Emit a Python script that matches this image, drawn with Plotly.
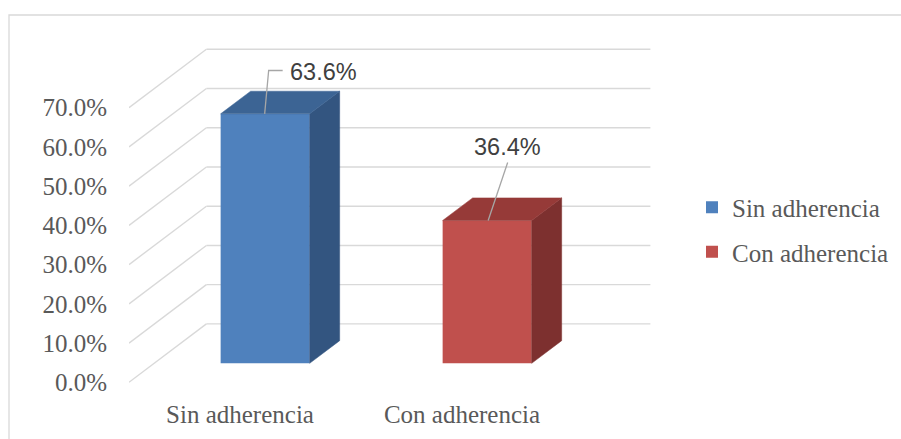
import plotly.graph_objects as go

# ---- data ----
categories = ["Sin adherencia", "Con adherencia"]
values = [63.6, 36.4]
y_ticks = [0, 10, 20, 30, 40, 50, 60, 70]
y_tick_labels = [f"{v:.1f}%" for v in y_ticks]

# ---- styling ----
front_colors = ["#4F81BD", "#C0504D"]
top_colors = ["#3C6494", "#963A38"]
side_colors = ["#335580", "#7D302F"]
grid_color = "#D9D9D9"
text_gray = "#595959"
label_gray = "#404040"
leader_gray = "#A6A6A6"
serif = "Liberation Serif, Times New Roman, serif"
sans = "Liberation Sans, Arial, sans-serif"

# ---- page geometry (pixels) ----
W, H = 901, 439
PLOT_L, PLOT_R, PLOT_T, PLOT_B = 129, 895, 30, 388
X_PX = 222.0          # pixels per category step
Y_PX = 3.923          # pixels per percentage point
ZERO_PX = 382.3       # pixel row of 0% on the front plane
LEGEND_LEFT_PX = 692  # legend box left edge (keeps the box inside the page)
LEGEND_TOP_PX = 184.5

x_range = [-0.5, -0.5 + (PLOT_R - PLOT_L) / X_PX]
y_range = [-(PLOT_B - ZERO_PX) / Y_PX, (ZERO_PX - PLOT_T) / Y_PX]

# oblique depth of the floor / walls, in axis units
DEPTH_X = 77.4 / X_PX
DEPTH_Y = 58.4 / Y_PX
BAR_T0 = 0.325        # depth fraction where bar fronts sit
BAR_DEPTH = 0.3876    # bar depth as a fraction of the full depth
BAR_W = 0.401
FLOOR_L, FLOOR_R = -0.5, 1.5

bar_dx = BAR_DEPTH * DEPTH_X
bar_dy = BAR_DEPTH * DEPTH_Y
base = BAR_T0 * DEPTH_Y
x_shift = BAR_T0 * DEPTH_X

fig = go.Figure()

# front faces of the bars
for i, (cat, val) in enumerate(zip(categories, values)):
    fig.add_trace(go.Bar(
        x=[i + x_shift], y=[val], base=[base], width=BAR_W,
        name=cat, legendgroup=cat,
        marker=dict(color=front_colors[i], line=dict(width=0)),
        hoverinfo="skip",
    ))

# side and top faces
for i, val in enumerate(values):
    xl = i + x_shift - BAR_W / 2
    xr = i + x_shift + BAR_W / 2
    yb, yt = base, base + val
    fig.add_trace(go.Scatter(
        x=[xr, xr, xr + bar_dx, xr + bar_dx, xr],
        y=[yb, yt, yt + bar_dy, yb + bar_dy, yb],
        fill="toself", fillcolor=side_colors[i], mode="lines",
        line=dict(color=side_colors[i], width=0.5),
        showlegend=False, hoverinfo="skip",
    ))
    fig.add_trace(go.Scatter(
        x=[xl, xr, xr + bar_dx, xl + bar_dx, xl],
        y=[yt, yt, yt + bar_dy, yt + bar_dy, yt],
        fill="toself", fillcolor=top_colors[i], mode="lines",
        line=dict(color=top_colors[i], width=0.5),
        showlegend=False, hoverinfo="skip",
    ))

# side wall and back wall gridlines
shapes = []
for v in y_ticks:
    shapes.append(dict(type="line", xref="x", yref="y", layer="below",
                       x0=FLOOR_L, y0=v, x1=FLOOR_L + DEPTH_X, y1=v + DEPTH_Y,
                       line=dict(color=grid_color, width=1.4)))
    shapes.append(dict(type="line", xref="x", yref="y", layer="below",
                       x0=FLOOR_L + DEPTH_X, y0=v + DEPTH_Y,
                       x1=FLOOR_R + DEPTH_X, y1=v + DEPTH_Y,
                       line=dict(color=grid_color, width=1.4)))

# chart area border
pw = PLOT_R - PLOT_L
ph = PLOT_B - PLOT_T
shapes.append(dict(type="rect", xref="paper", yref="paper", layer="below",
                   x0=(9 - PLOT_L) / pw, x1=(W + 20 - PLOT_L) / pw,
                   y0=(PLOT_B - (H + 20)) / ph, y1=(PLOT_B - 15) / ph,
                   line=dict(color=grid_color, width=1.3)))

# data labels with leader lines (offsets in pixels from the bar top centre)
label_offsets = [(58.5, -42.3), (20.5, -74.0)]
leader_paths = [[(-0.5, 0), (3.5, -43.3), (17.5, -43.3)],
                [(1.0, 0), (20.5, -58.0)]]
annotations = []
for i, val in enumerate(values):
    cx = i + x_shift
    cy = base + val
    path = leader_paths[i]
    fig.add_trace(go.Scatter(
        x=[cx + px / X_PX for px, _ in path],
        y=[cy - py / Y_PX for _, py in path],
        mode="lines", line=dict(color=leader_gray, width=1.3),
        showlegend=False, hoverinfo="skip",
    ))
    ox, oy = label_offsets[i]
    annotations.append(dict(
        x=cx, y=cy, xref="x", yref="y", text=f"{val:.1f}%",
        showarrow=False, xanchor="center", yanchor="middle",
        xshift=ox, yshift=-oy,
        font=dict(family=sans, size=23.5, color=label_gray),
    ))

fig.update_layout(
    width=W, height=H,
    margin=dict(l=PLOT_L, r=W - PLOT_R, t=PLOT_T, b=H - PLOT_B, pad=0),
    paper_bgcolor="white", plot_bgcolor="white",
    barmode="overlay",
    showlegend=True,
    legend=dict(x=(LEGEND_LEFT_PX - PLOT_L) / pw, xanchor="left",
                y=(PLOT_B - LEGEND_TOP_PX) / ph, yanchor="top",
                font=dict(family=serif, size=25, color=text_gray),
                tracegroupgap=9, bgcolor="rgba(0,0,0,0)"),
    xaxis=dict(range=x_range, tickvals=list(range(len(categories))),
               ticktext=categories, showgrid=False, zeroline=False,
               showline=False, ticks="outside", ticklen=4,
               tickcolor="rgba(0,0,0,0)", automargin=False,
               tickfont=dict(family=serif, size=25, color=text_gray),
               fixedrange=True),
    yaxis=dict(range=y_range, tickvals=y_ticks, ticktext=y_tick_labels,
               showgrid=False, zeroline=False,
               showline=False, ticks="outside", ticklen=16,
               tickcolor="rgba(0,0,0,0)", automargin=False,
               tickfont=dict(family=serif, size=25, color=text_gray),
               fixedrange=True),
    shapes=shapes,
    annotations=annotations,
)

fig.write_html("out.html")
